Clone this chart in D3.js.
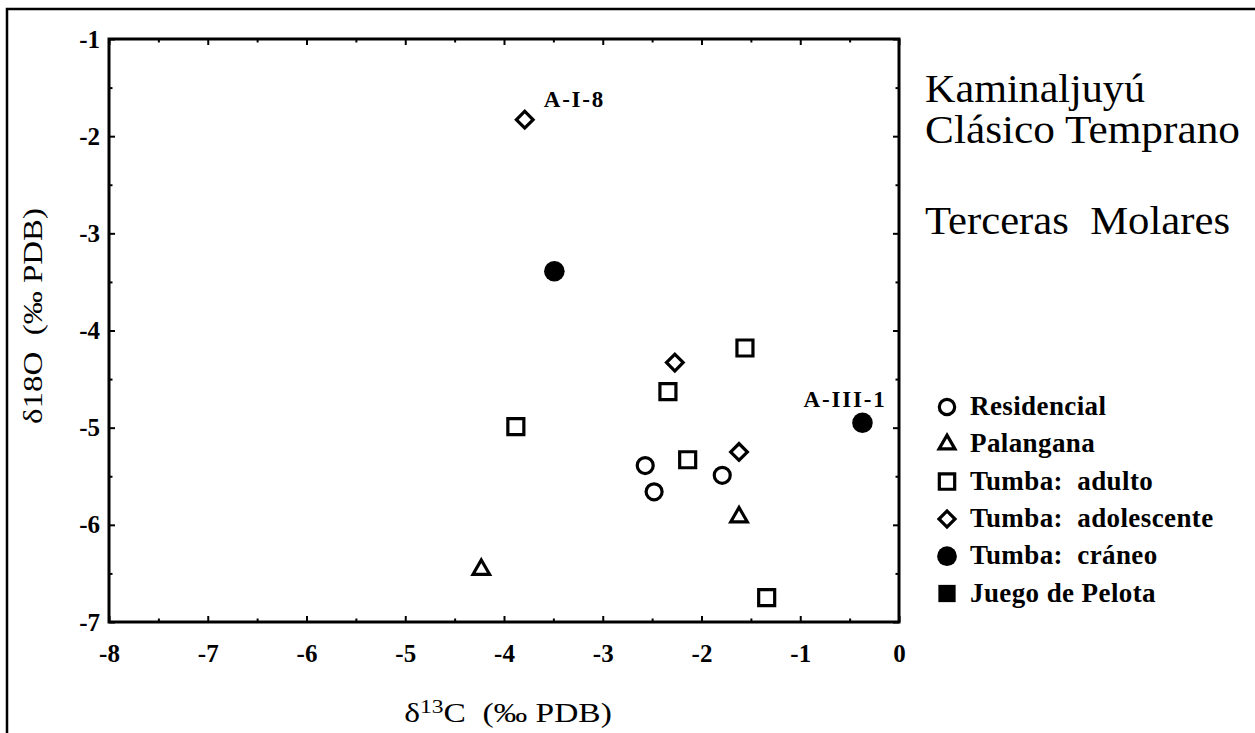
<!DOCTYPE html>
<html>
<head>
<meta charset="utf-8">
<script src="https://cdn.jsdelivr.net/npm/d3@7"></script>
<style>
  body { margin: 0; background: #fff; }
  svg { display: block; }
  text { font-family: "Liberation Serif", "Times New Roman", serif; fill: #000; white-space: pre; }
</style>
</head>
<body>
<svg id="chart" width="1255" height="733"></svg>
<script>
// Sample groups (legend order) and the marker used for each
const groups = ["Residencial", "Palangana", "Tumba:  adulto", "Tumba:  adolescente", "Tumba:  cráneo", "Juego de Pelota"];
const groupMarkers = ["circle", "triangle", "square", "diamond", "filledCircle", "filledSquare"];

// Third-molar isotope values: δ13C and δ18O (‰ PDB), group index, optional label
const sampleC13   = [-2.57, -2.48, -1.79, -1.62, -4.23, -1.56, -2.34, -3.88, -2.14, -1.34, -3.79, -2.27, -1.62, -3.49, -0.37];
const sampleO18   = [-5.39, -5.66, -5.49, -5.92, -6.46, -4.18, -4.63, -4.99, -5.33, -6.75, -1.83, -4.33, -5.25, -3.39, -4.95];
const sampleGroup = [0, 0, 0, 1, 1, 2, 2, 2, 2, 2, 3, 3, 3, 4, 4];
const sampleLabel = ["", "", "", "", "", "", "", "", "", "", "A-I-8", "", "", "", "A-III-1"];

// Axis ticks
const xTicks = [-8, -7, -6, -5, -4, -3, -2, -1, 0];
const yTicks = [-7, -6, -5, -4, -3, -2, -1];
const xMinor = [-7.5, -6.5, -5.5, -4.5, -3.5, -2.5, -1.5, -0.5];
const yMinor = [-6.5, -5.5, -4.5, -3.5, -2.5, -1.5];

const titleLines = ["Kaminaljuyú", "Clásico Temprano", "Terceras  Molares"];

const svg = d3.select("#chart");

// Outer page frame (top and left rules)
svg.append("path")
  .attr("d", "M7,733V9H1255")
  .attr("fill", "none").attr("stroke", "#000").attr("stroke-width", 2.5);

const plot = { left: 109, right: 899, top: 39, bottom: 622 };
const x = d3.scaleLinear().domain([-8, 0]).range([plot.left, plot.right]);
const y = d3.scaleLinear().domain([-7, -1]).range([plot.bottom, plot.top]);

// Marker shapes
function markerPath(kind, k) {
  switch (kind) {
    case "circle": return d3.symbol(d3.symbolCircle, Math.PI * 8 * 8 * k)();
    case "filledCircle": return d3.symbol(d3.symbolCircle, Math.PI * 10.3 * 10.3 * k)();
    case "triangle": return d3.symbol(d3.symbolTriangle, Math.sqrt(3) / 4 * 16.5 * 16.5 * k)();
    case "square": return d3.symbol(d3.symbolSquare, 16 * 16 * k)();
    case "filledSquare": return d3.symbol(d3.symbolSquare, 18 * 18 * k)();
    case "diamond": return d3.symbol(d3.symbolSquare, 11.8 * 11.8 * k)();
  }
}
function drawMarker(g, kind, cx, cy, k) {
  const filled = kind === "filledCircle" || kind === "filledSquare";
  g.append("path")
    .attr("d", markerPath(kind, k))
    .attr("transform", `translate(${cx},${cy})` + (kind === "diamond" ? " rotate(45)" : ""))
    .attr("fill", filled ? "#000" : "#fff")
    .attr("stroke", filled ? "none" : "#000")
    .attr("stroke-width", 3.2)
    .attr("stroke-linejoin", "miter");
}

// Axes with ticks pointing into the plot on all four sides
const tickFont = g => g.selectAll("text")
  .style("font-family", '"Liberation Serif", "Times New Roman", serif')
  .style("font-size", "25px").style("font-weight", "bold").attr("fill", "#000");
const styleAxis = (g, w) => {
  g.select(".domain").remove();
  g.selectAll(".tick line").attr("stroke", "#000").attr("stroke-width", w);
};

const axes = svg.append("g");
axes.append("g").attr("transform", `translate(0,${plot.bottom})`)
  .call(d3.axisBottom(x).tickValues(xTicks).tickSize(-6).tickPadding(22).tickFormat(d => String(d)))
  .call(g => styleAxis(g, 2)).call(tickFont);
axes.append("g").attr("transform", `translate(0,${plot.bottom})`)
  .call(d3.axisBottom(x).tickValues(xMinor).tickSize(-3.5).tickFormat(""))
  .call(g => styleAxis(g, 2));
axes.append("g").attr("transform", `translate(0,${plot.top})`)
  .call(d3.axisTop(x).tickValues(xTicks).tickSize(-6).tickFormat(""))
  .call(g => styleAxis(g, 2));
axes.append("g").attr("transform", `translate(0,${plot.top})`)
  .call(d3.axisTop(x).tickValues(xMinor).tickSize(-3.5).tickFormat(""))
  .call(g => styleAxis(g, 2));
axes.append("g").attr("transform", `translate(${plot.left},0)`)
  .call(d3.axisLeft(y).tickValues(yTicks).tickSize(-6).tickPadding(9).tickFormat(d => String(d)))
  .call(g => styleAxis(g, 2)).call(tickFont);
axes.append("g").attr("transform", `translate(${plot.left},0)`)
  .call(d3.axisLeft(y).tickValues(yMinor).tickSize(-3.5).tickFormat(""))
  .call(g => styleAxis(g, 2));
axes.append("g").attr("transform", `translate(${plot.right},0)`)
  .call(d3.axisRight(y).tickValues(yTicks).tickSize(-6).tickFormat(""))
  .call(g => styleAxis(g, 2));
axes.append("g").attr("transform", `translate(${plot.right},0)`)
  .call(d3.axisRight(y).tickValues(yMinor).tickSize(-3.5).tickFormat(""))
  .call(g => styleAxis(g, 2));

// Plot frame
svg.append("rect")
  .attr("x", x(-8)).attr("y", y(-1))
  .attr("width", x(0) - x(-8)).attr("height", y(-7) - y(-1))
  .attr("fill", "none").attr("stroke", "#000").attr("stroke-width", 3);

// Axis titles
const xTitle = svg.append("text")
  .attr("transform", `translate(${(plot.left + plot.right) / 2 + 4},722) scale(1.24,1)`)
  .attr("text-anchor", "middle").style("font-size", "27px");
xTitle.append("tspan").text("δ");
xTitle.append("tspan").attr("dy", -9).style("font-size", "19px").text("13");
xTitle.append("tspan").attr("dy", 9).text("C  (‰ PDB)");

svg.append("text")
  .attr("transform", "translate(42,316) rotate(-90) scale(1.22,1)")
  .attr("text-anchor", "middle").style("font-size", "27px")
  .text("δ18O  (‰ PDB)");

// Data points
const pts = svg.append("g");
sampleC13.forEach((c, i) => {
  drawMarker(pts, groupMarkers[sampleGroup[i]], x(c), y(sampleO18[i]), 1);
});

// Point labels
const labelStyle = t => t.style("font-size", "23px").style("font-weight", "bold").style("letter-spacing", "1.8px");
sampleC13.forEach((c, i) => {
  if (!sampleLabel[i]) return;
  const px = x(c), py = y(sampleO18[i]);
  const right = c < -2;
  svg.append("text")
    .attr("x", right ? px + 19 : px + 24)
    .attr("y", py - (right ? 13 : 16))
    .attr("text-anchor", right ? "start" : "end")
    .call(labelStyle)
    .text(sampleLabel[i]);
});

// Title block
svg.append("g").selectAll("text").data(titleLines).join("text")
  .attr("x", 925)
  .attr("y", (d, i) => [102, 143, 234][i])
  .style("font-size", "39px")
  .attr("textLength", (d, i) => [220, 315, 305][i])
  .attr("lengthAdjust", "spacingAndGlyphs")
  .text(d => d);

// Legend
const legend = svg.append("g").attr("transform", "translate(947,415)");
groups.forEach((name, i) => {
  const row = legend.append("g").attr("transform", `translate(0,${i * 37.3})`);
  drawMarker(row, groupMarkers[i], 0, -8, 0.92);
  row.append("text")
    .attr("x", 23).attr("y", 0)
    .style("font-size", "27px").style("font-weight", "bold").style("letter-spacing", "0.4px")
    .text(name);
});
</script>
</body>
</html>
